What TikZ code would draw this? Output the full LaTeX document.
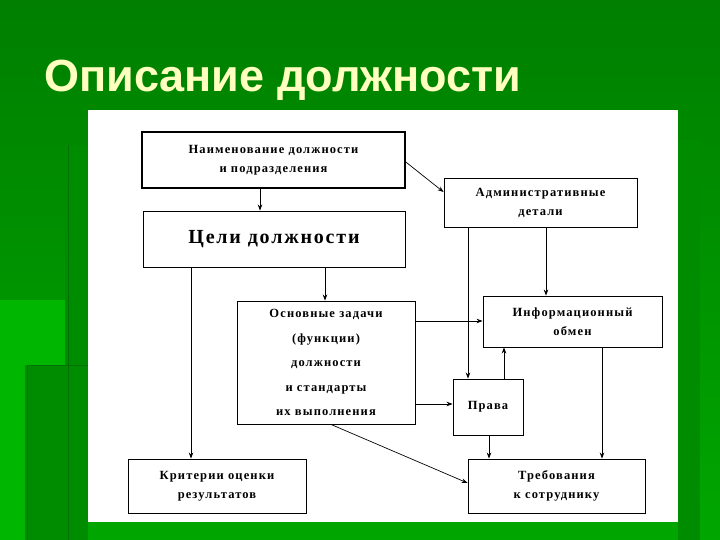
\documentclass[tikz,border=0pt]{standalone}
\usepackage{fontspec}
\setmainfont{Liberation Serif}
\newfontfamily\titlefont{Liberation Sans}
\newfontfamily\boxfont[LetterSpace=9]{Liberation Serif}
\usetikzlibrary{arrows.meta}
\definecolor{bgtop}{HTML}{007F00}
\definecolor{bgbot}{HTML}{00C000}
\definecolor{deco}{HTML}{008C00}
\definecolor{titlec}{HTML}{FFFFC0}
\tikzset{
  box/.style={draw, line width=0.9pt, rectangle, inner sep=0pt, align=center,
    font=\boxfont\bfseries\fontsize{12.5}{19}\selectfont},
  arr/.style={-{Stealth[length=6pt,width=4.5pt]}, line width=0.7pt}
}
\begin{document}
\begin{tikzpicture}[x=1pt,y=-1pt]
\useasboundingbox (0,0) rectangle (720,540);
% background
\shade[top color=bgtop, bottom color=bgtop!40!bgbot, shading angle=0] (0,0) rectangle (720,540);
\fill[bgbot!85!bgtop] (0,300) rectangle (70,540);
\fill[deco] (25,365) rectangle (88,540);
\fill[deco] (65,145) rectangle (88,540);
\draw[green!40!black!70!deco, line width=1pt] (68,145) -- (68,540);
\draw[green!40!black!70!deco, line width=1pt] (27,365) -- (27,540);
\draw[green!40!black!70!deco, line width=1pt] (27,365) -- (88,365);
\fill[deco] (678,140) rectangle (700,540);
% title
\node[anchor=base west, inner sep=0pt, text=titlec, font=\titlefont\bfseries\fontsize{45}{50}\selectfont] (title) at (44,92) {Описание должности};
% panel
\fill[white] (88,110) rectangle (678,522);
% boxes
\node[box, line width=1.6pt, minimum width=263pt, minimum height=56pt] (name) at (273.5,160) {Наименование должности\\и подразделения};
\node[box, minimum width=193pt, minimum height=49pt] (adm) at (540.5,202.5) {Административные\\детали};
\node[box, minimum width=262pt, minimum height=56pt, font=\boxfont\bfseries\fontsize{20}{24}\selectfont] (goal) at (274,239) {Цели должности};
\node[box, minimum width=178pt, minimum height=123pt, font=\boxfont\bfseries\fontsize{12.5}{24.5}\selectfont] (task) at (326,362.5) {Основные задачи\\(функции)\\должности\\и стандарты\\их выполнения};
\node[box, minimum width=179pt, minimum height=51pt] (info) at (572.5,321.5) {Информационный\\обмен};
\node[box, minimum width=70pt, minimum height=56pt] (rights) at (488,407) {Права};
\node[box, minimum width=178pt, minimum height=54pt] (crit) at (217,486) {Критерии оценки\\результатов};
\node[box, minimum width=177pt, minimum height=54pt] (req) at (556.5,486) {Требования\\к сотруднику};
% arrows
\draw[arr] (name.south -| 260,0) -- (goal.north -| 260,0);
\draw[arr] (name.east |- 0,162) -- (adm.west |- 0,192);
\draw[arr] (goal.south -| 191,0) -- (crit.north -| 191,0);
\draw[arr] (goal.south -| 325,0) -- (task.north -| 325,0);
\draw[arr] (adm.south -| 468,0) -- (rights.north -| 468,0);
\draw[arr] (adm.south -| 546,0) -- (info.north -| 546,0);
\draw[arr] (task.east |- 0,321) -- (info.west |- 0,321);
\draw[arr] (task.east |- 0,404) -- (rights.west |- 0,404);
\draw[arr] (rights.north -| 504,0) -- (info.south -| 504,0);
\draw[arr] (rights.south -| 489,0) -- (req.north -| 489,0);
\draw[arr] (info.south -| 602,0) -- (req.north -| 602,0);
\draw[arr] (task.south -| 331,0) -- (req.west |- 0,483);
\end{tikzpicture}
\end{document}
